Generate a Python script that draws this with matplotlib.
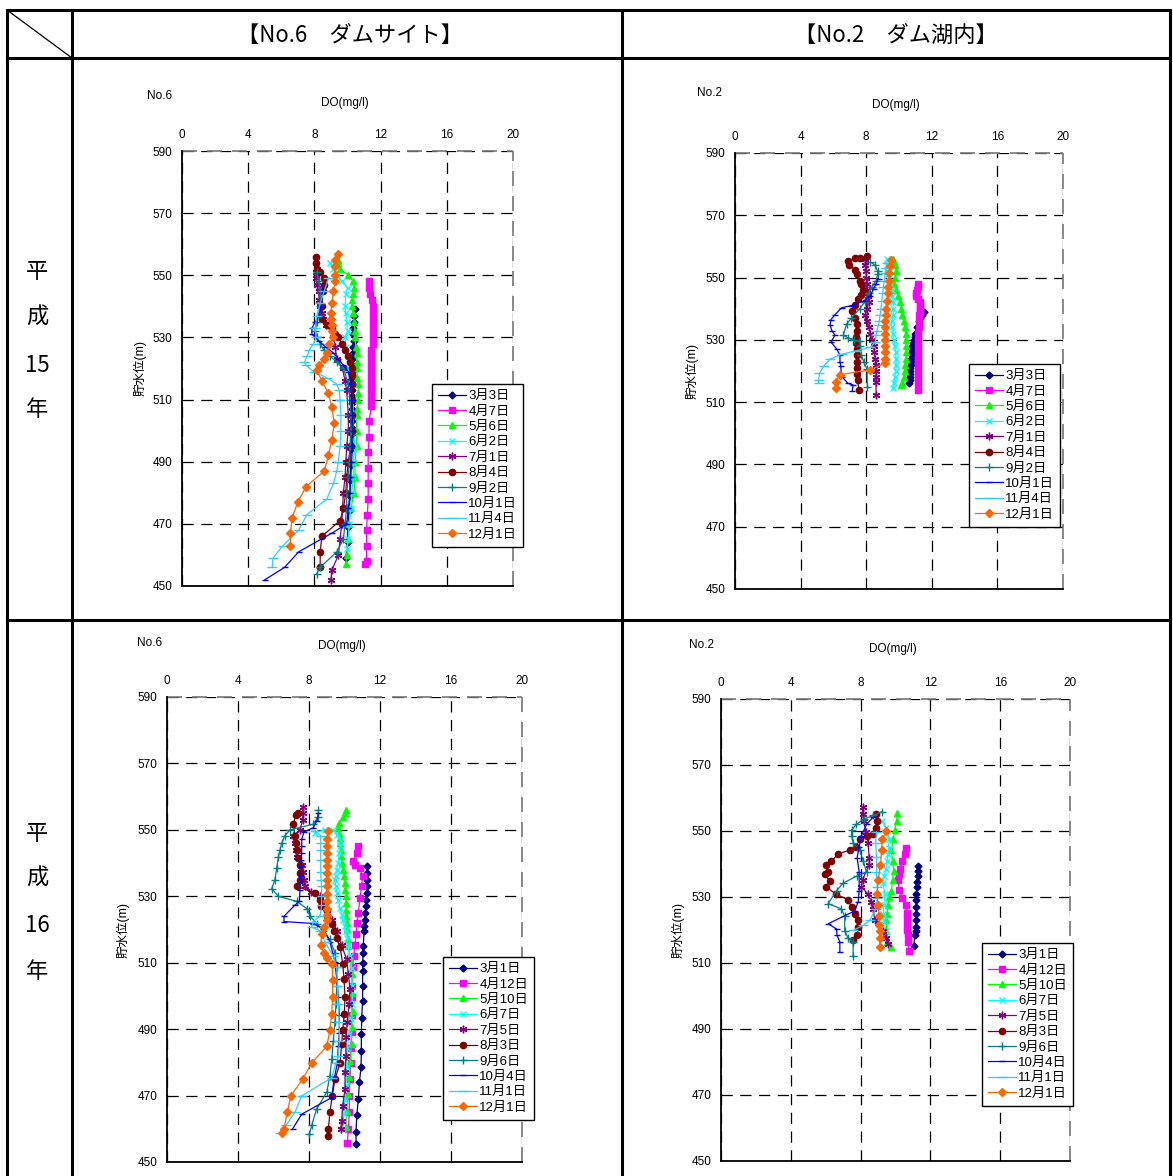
import matplotlib
matplotlib.use('Agg')
import matplotlib.pyplot as plt
from matplotlib.lines import Line2D

plt.rcParams['font.family'] = ['Liberation Sans', 'Noto Sans CJK JP']

W, H = 1173, 1176

# ---- data: (DO mg/l, water level m) ----
# H15 No.6
h15_no6_03 = [(10.45,539),(10.4,537),(10.4,535),(10.35,533),(10.35,531),(10.4,529),(10.35,527),(10.35,525),(10.3,523),(10.3,521),(10.3,519),(10.3,517),(10.3,515),(10.25,513),(10.3,511),(10.3,509),(10.25,507),(10.3,505),(10.25,503),(10.3,501),(10.25,499),(10.2,494),(10.2,489),(10.15,484),(10.15,479),(10.1,474),(10.0,469),(10.0,464),(9.9,459)]
h15_no6_04 = [(11.3,548),(11.3,546),(11.35,544),(11.5,542),(11.55,540),(11.55,538),(11.55,536),(11.55,534),(11.55,532),(11.55,530),(11.55,528),(11.45,526),(11.45,524),(11.45,522),(11.45,520),(11.45,518),(11.45,516),(11.45,514),(11.45,512),(11.45,510),(11.45,508),(11.3,503),(11.3,498),(11.25,493),(11.25,488),(11.25,483),(11.25,478),(11.2,473),(11.15,468),(11.15,463),(11.15,458),(11.05,457)]
h15_no6_05 = [(9.4,555),(9.45,554),(9.55,552),(10.05,550),(10.35,548),(10.4,546),(10.35,544),(10.3,542),(10.25,540),(10.35,538),(10.4,535),(10.45,532),(10.45,530),(10.5,527),(10.55,525),(10.55,522),(10.55,520),(10.6,517),(10.65,515),(10.65,512),(10.65,510),(10.6,507),(10.55,505),(10.55,500),(10.55,495),(10.45,490),(10.45,485),(10.4,480),(10.2,475),(10.1,470),(10.05,465),(9.95,460),(9.9,457)]
h15_no6_06 = [(8.95,554),(9.1,552),(9.35,550),(9.65,548),(10.0,546),(9.9,544),(9.85,540),(9.9,538),(9.95,535),(10.0,532),(9.85,530),(9.9,527),(10.0,524),(10.05,520),(10.15,515),(10.35,510),(10.35,505),(10.35,500),(10.45,495),(10.35,490),(10.35,485),(10.25,480),(10.2,475),(10.1,470),(10.05,465),(9.95,462)]
h15_no6_07 = [(8.1,551),(8.1,549),(8.15,547),(8.25,545),(8.3,542),(8.35,540),(8.45,538),(8.5,536),(8.7,534),(9.15,531),(9.25,527),(9.35,523),(9.7,520),(9.85,516),(9.95,513),(10.05,505),(10.05,500),(9.95,495),(9.9,490),(9.85,485),(9.75,480),(9.7,475),(9.65,470),(9.55,465),(9.45,460),(9.05,455),(9.0,452)]
h15_no6_08 = [(8.1,556),(8.1,554),(8.15,552),(8.35,551),(8.55,549),(8.6,547),(8.5,545),(8.45,540),(8.45,536),(8.75,534),(9.05,533),(9.25,531),(9.45,530),(9.65,528),(9.85,526),(10.05,524),(10.15,522),(10.25,520),(10.3,518),(10.3,515),(10.3,510),(10.3,505),(10.25,500),(10.2,495),(10.05,490),(9.95,485),(9.9,480),(9.75,475),(9.55,471),(8.45,466),(8.35,461),(8.35,456)]
h15_no6_09 = [(8.15,551),(8.25,548),(8.35,545),(8.35,540),(8.15,535),(8.05,532),(8.15,530),(8.35,528),(8.55,526),(8.95,524),(9.35,522),(9.75,520),(10.05,515),(10.15,510),(10.2,505),(10.2,500),(10.15,495),(10.1,490),(10.05,485),(9.95,480),(9.95,475),(9.85,470),(9.75,465),(9.35,461),(8.35,456),(8.15,454)]
h15_no6_10 = [(8.55,547),(8.5,545),(8.4,540),(8.3,537),(8.05,535),(7.85,533),(7.85,531),(8.25,529),(8.65,527),(9.15,525),(9.45,523),(9.75,521),(10.05,519),(10.2,515),(10.25,510),(10.3,505),(10.35,500),(10.3,495),(10.25,490),(10.2,485),(10.15,480),(10.05,475),(9.95,470),(9.05,467),(7.05,461),(6.2,456),(5.0,452)]
h15_no6_11 = [(8.85,549),(8.6,545),(8.35,541),(8.15,537),(8.05,533),(8.1,530),(7.95,528),(7.7,526),(7.55,524),(7.4,522),(7.5,521),(7.95,519),(8.75,517),(9.35,515),(9.5,513),(9.55,510),(9.6,505),(9.6,500),(9.55,495),(9.45,490),(9.35,487),(9.15,483),(8.75,478),(7.55,473),(7.05,468),(6.1,463),(5.5,459),(5.45,456)]
h15_no6_12 = [(9.4,557),(9.25,555),(9.25,553),(9.25,550),(9.25,548),(9.15,545),(9.05,541),(9.0,538),(9.0,536),(9.05,534),(9.05,532),(9.15,530),(8.9,528),(8.75,525),(8.6,523),(8.25,521),(8.15,519.5),(8.45,516),(8.85,512),(9.05,507.5),(9.2,502.5),(9.05,497),(8.85,492),(8.6,487),(7.5,482),(7.0,477),(6.65,472),(6.55,467),(6.55,463)]

# H15 No.2
h15_no2_03 = [(11.5,539),(11.4,538),(11.3,537),(11.2,536),(11.1,534),(11.0,532),(10.95,531),(10.9,530),(10.85,529),(10.8,528),(10.8,527),(10.78,526),(10.77,525),(10.75,524),(10.73,523),(10.72,522),(10.7,521),(10.7,520),(10.68,519),(10.67,518),(10.65,517),(10.63,516)]
h15_no2_04 = [(11.15,548),(11.15,547),(11.1,546),(11.05,545),(11.05,544),(11.15,543),(11.25,542),(11.3,541),(11.3,540),(11.25,539),(11.2,538),(11.2,536),(11.2,534),(11.18,532),(11.18,530),(11.18,528),(11.18,526),(11.18,524),(11.18,522),(11.18,520),(11.18,518),(11.18,516),(11.18,514)]
h15_no2_05 = [(9.65,556),(9.7,555),(9.75,554),(9.8,552),(9.75,550),(9.7,548),(9.8,546),(9.95,544),(10.05,542),(10.15,540),(10.2,538),(10.3,536),(10.35,534),(10.4,532),(10.4,530),(10.45,528),(10.45,526),(10.4,524),(10.38,522),(10.35,520),(10.3,518),(10.2,516),(10.15,515.5)]
h15_no2_06 = [(9.25,556),(9.25,554),(9.25,552),(9.3,550),(9.45,548),(9.55,546),(9.6,544),(9.65,542),(9.65,540),(9.65,538),(9.55,536),(9.55,534),(9.65,532),(9.7,530),(9.75,528),(9.8,526),(9.82,524),(9.82,522),(9.8,520),(9.75,518),(9.7,516),(9.65,514.5)]
h15_no2_07 = [(7.95,556),(7.95,554),(8.0,552),(8.0,550),(8.05,548),(8.05,546),(8.1,544),(8.15,542),(8.05,540),(7.95,538),(8.05,536),(8.15,534),(8.25,532),(8.35,530),(8.45,528),(8.5,526),(8.55,524),(8.58,522),(8.6,520),(8.6,518),(8.6,516.5),(8.6,512.2)]
h15_no2_08 = [(8.05,557),(7.6,556.3),(7.3,556.2),(6.9,555.2),(6.95,554),(7.3,552.5),(7.45,551),(7.62,549),(7.7,548),(7.8,546),(7.7,544.5),(7.5,543),(7.3,541.2),(7.15,539.2),(7.3,537),(7.45,535),(7.45,533),(7.4,531),(7.4,529),(7.42,527),(7.45,525),(7.45,523),(7.42,521),(7.42,519),(7.48,517),(7.55,514)]
h15_no2_09 = [(8.25,555),(8.55,554),(8.7,552),(8.7,551),(8.6,549),(8.35,547),(8.15,545),(7.9,542),(7.6,540),(7.1,537),(6.8,535),(6.6,531.5),(6.9,530.6),(7.25,529.8),(7.6,529.5),(7.65,528),(7.7,525),(7.85,523),(8.05,520.5),(8.07,515)]
h15_no2_10 = [(8.75,549.7),(8.6,548),(8.45,546.4),(8.25,544.2),(7.85,542.5),(7.1,541),(6.5,540.3),(6.1,538.1),(5.85,536.5),(5.8,534.8),(5.9,533),(6.1,531.5),(5.85,529.3),(6.2,527.1),(6.4,525),(6.4,523),(6.45,521.5),(6.5,518.2),(6.9,516),(7.2,515.5),(7.15,513.6)]
h15_no2_11 = [(9.25,554.7),(9.2,553),(9.15,551.4),(9.1,549),(9.05,547),(9.0,545),(8.95,542.5),(8.9,540),(8.85,538),(8.8,536),(8.75,534.8),(8.65,533),(8.6,531.5),(8.55,529.3),(8.25,527.6),(7.4,526.5),(6.5,525.4),(5.8,523.8),(5.4,521.5),(5.15,519.3),(5.1,517.1),(5.1,516.2)]
h15_no2_12 = [(9.5,555.8),(9.45,553.6),(9.4,551.4),(9.38,549),(9.35,547),(9.3,545),(9.25,542.5),(9.22,540),(9.2,538),(9.15,536),(9.15,534),(9.15,532),(9.15,530),(9.15,528),(9.15,526),(9.15,524),(9.15,522.6),(8.25,520.4),(6.4,518.8),(6.15,516.6),(6.15,514.4)]

# H16 No.6
h16_no6_03 = [(11.25,539),(11.25,537),(11.25,535),(11.25,533),(11.25,531),(11.22,529),(11.2,527),(11.18,525),(11.15,523),(11.12,521),(11.1,519.5),(11.06,515),(11.05,513),(11.02,510),(11.02,507.5),(11.02,503),(11.02,498.5),(10.97,493.5),(10.95,488.5),(10.95,483.5),(10.93,478.5),(10.84,474),(10.78,469),(10.69,464),(10.65,459),(10.65,455.5)]
h16_no6_04 = [(10.78,545),(10.7,543),(10.46,540.6),(10.6,539.5),(10.85,538.4),(11.02,536.2),(10.97,533),(10.87,529.6),(10.78,525),(10.7,522),(10.65,518.5),(10.59,515.2),(10.52,512),(10.46,508.6),(10.44,503),(10.4,499.7),(10.4,494.2),(10.4,489.2),(10.35,484.3),(10.35,479.8),(10.31,475),(10.27,470),(10.27,465),(10.22,460),(10.16,455.7)]
h16_no6_05 = [(10.07,556),(10.03,555),(9.9,554),(9.71,552),(9.65,550.5),(9.68,549),(9.72,547.5),(9.76,546),(9.78,544),(9.82,542),(9.86,540),(9.9,538),(9.95,536),(10.0,534),(10.03,532),(10.08,530),(10.1,528),(10.1,526),(10.08,524),(10.12,522),(10.16,520),(10.2,517),(10.22,515),(10.31,511),(10.4,506.5),(10.44,501),(10.46,495.5),(10.4,490.5),(10.4,485.5),(10.31,480.5),(10.27,475.5),(10.22,470.5),(10.12,465.5),(10.08,460.5)]
h16_no6_06 = [(8.35,549.2),(8.9,550),(9.37,550),(9.6,548.5),(9.75,547),(9.75,545),(9.7,543),(9.65,540),(9.55,538),(9.5,536),(9.46,535),(9.5,533),(9.56,531),(9.65,529),(9.75,526.5),(9.85,524.5),(9.93,523),(10.0,521),(10.08,519.5),(10.15,517.5),(10.22,515),(10.31,512),(10.4,508.5),(10.44,503),(10.44,497.5),(10.35,493),(10.27,488.5),(10.16,484.3),(10.12,478.7),(10.08,473.2),(10.03,468.8),(9.97,464.4),(9.9,460)]
h16_no6_07 = [(7.64,557),(7.66,555),(7.64,553),(7.49,550),(7.12,548.3),(7.2,546),(7.25,544),(7.3,541.7),(7.59,539.5),(7.68,537.3),(7.72,535),(7.77,533),(8.09,531.2),(8.62,530),(8.85,527),(9.0,525),(9.28,523),(9.56,519.6),(9.84,515.2),(10.12,511),(10.22,506.5),(10.31,502),(10.25,497.5),(10.16,492),(10.08,487.6),(10.08,482),(10.03,477),(10.03,472),(9.9,467),(9.84,462.2),(9.78,460)]
h16_no6_08 = [(7.4,555.2),(7.25,554.4),(7.12,551.7),(7.2,548.3),(7.25,546),(7.3,544),(7.4,541.5),(7.49,539.5),(7.49,537),(7.49,535),(7.3,533),(8.34,531),(8.62,529),(8.7,527),(9.0,524),(9.28,521.8),(9.4,519.5),(9.56,517.4),(9.75,514.6),(9.9,509.7),(9.97,505.2),(10.03,499.7),(9.99,494.7),(9.9,489.8),(9.84,485.4),(9.75,479.8),(9.46,474.9),(9.31,469.9),(9.18,465),(9.09,460),(9.09,457.7)]
h16_no6_09 = [(8.53,556),(8.53,554),(8.24,551.7),(6.93,550),(6.65,548.3),(6.46,546),(6.37,544),(6.27,541.7),(6.18,538.4),(6.08,535),(5.9,532.3),(6.27,530),(7.3,528.5),(7.91,526.2),(8.06,524),(8.43,521.8),(8.81,519.6),(9.18,517),(9.46,513),(9.56,508.6),(9.56,503),(9.52,497.5),(9.46,492),(9.37,486.5),(9.28,481),(9.18,476),(9.0,471),(8.43,466),(8.15,461),(8.02,458.3)]
h16_no6_10 = [(8.53,555),(8.45,552.8),(8.24,550.6),(7.72,549.4),(7.59,547.2),(7.59,545),(7.59,543),(7.57,541),(7.57,539),(7.55,536.2),(7.52,534),(7.49,531.8),(7.46,528.5),(7.2,527.3),(6.59,524),(6.59,522.4),(8.24,521.8),(8.81,520.2),(9.18,516.3),(9.46,510.2),(9.56,505.2),(9.65,499.7),(9.71,494.2),(9.71,488.7),(9.65,484.8),(9.6,479.8),(9.41,474.9),(9.28,469.4),(7.59,464.4),(7.08,460)]
h16_no6_11 = [(8.34,549.7),(8.66,548.3),(8.66,546),(8.66,543.9),(8.66,541),(8.66,537.3),(8.68,535),(8.71,533),(8.71,530),(8.71,527.3),(8.62,524),(8.24,522.4),(8.15,520.7),(8.62,519.6),(8.9,516.3),(9.37,511.9),(9.56,508.6),(9.6,503),(9.65,497.5),(9.71,492),(9.71,486.5),(9.65,482),(9.52,479.8),(9.28,475.4),(7.59,469.9),(7.21,465),(6.7,461),(6.37,458.8)]
h16_no6_12 = [(9.09,549.7),(9.0,547.2),(9.0,545),(9.0,543),(9.0,541),(9.0,539),(9.0,537),(9.0,535),(9.0,533),(9.0,530.7),(9.0,528.5),(9.0,526.2),(9.0,524.5),(9.0,522.9),(8.85,520.7),(8.71,518.5),(8.66,515.2),(8.85,513),(9.0,511.3),(9.31,509.7),(9.33,504.7),(9.33,499.7),(9.28,494.7),(9.18,489.8),(9.0,484.8),(8.15,479.8),(7.64,474.9),(6.97,469.9),(6.78,465),(6.59,460),(6.46,458.8)]

# H16 No.2
h16_no2_03 = [(11.3,539.5),(11.3,538),(11.28,536.5),(11.24,534.5),(11.22,533),(11.2,531),(11.2,529),(11.2,527),(11.2,525),(11.2,523),(11.2,521),(11.18,519.7),(11.1,518.6),(11.05,515.2)]
h16_no2_04 = [(10.59,545),(10.55,543),(10.4,541),(10.25,538.6),(10.2,537),(10.15,535.3),(10.2,532),(10.4,529.7),(10.59,527.5),(10.67,525.3),(10.67,523.5),(10.67,521.9),(10.67,520),(10.7,518.6),(10.73,516.5),(10.76,513.6)]
h16_no2_05 = [(10.1,555.5),(10.06,553.1),(9.96,550.3),(9.87,547.5),(9.77,544.2),(9.83,540.8),(9.9,538),(9.83,535.3),(9.77,531.9),(9.65,530),(9.58,527.5),(9.5,525),(9.48,523),(9.48,519.7),(9.54,516.4),(9.77,514.7)]
h16_no2_06 = [(9.2,553.1),(9.48,550.8),(9.64,547.5),(9.6,545),(9.58,543.1),(9.5,540.8),(9.45,538.6),(9.35,536.3),(9.29,534.2),(9.39,530.8),(9.33,527.5),(9.3,525),(9.35,523),(9.45,519.7),(9.52,517.5)]
h16_no2_07 = [(8.11,557.3),(8.11,555.3),(8.18,553.1),(8.3,549.7),(8.43,546.4),(8.49,541.9),(8.49,539.7),(8.11,535.3),(8.05,533.1),(8.43,530.8),(8.62,528.6),(8.72,526.4),(8.81,523),(9.29,519.7),(9.48,517.5),(9.58,515.8)]
h16_no2_08 = [(8.91,555.1),(8.95,553.1),(8.91,550.8),(8.72,549.2),(8.34,548.6),(7.95,547.5),(7.76,545.3),(7.38,544.2),(6.71,543.1),(6.33,540.8),(6.04,539.7),(6.14,537.5),(5.95,536.9),(6.23,534.7),(6.04,533),(6.61,530.8),(7.28,529.2),(7.48,526.9),(7.67,524.7),(7.86,523),(7.86,520.8),(7.8,518.6),(7.57,516.9)]
h16_no2_09 = [(9.2,555.8),(8.72,554.7),(8.18,553.6),(7.76,552),(7.48,550.3),(7.48,548.6),(7.57,546.4),(7.95,544.2),(8.15,541),(8.34,537.5),(7.8,536.4),(7.0,534.2),(6.62,531.9),(6.14,528),(6.9,526.4),(7.09,524.2),(7.09,519.7),(7.28,517.5),(7.57,516.4),(7.57,512.1)]
h16_no2_10 = [(8.72,554.2),(8.34,552),(8.05,548.6),(7.92,545.3),(7.8,541.9),(7.92,537.5),(7.92,531.9),(7.86,528.6),(7.67,525.8),(6.14,521.9),(6.62,520.3),(6.65,518.4),(6.81,516.4),(6.81,513.3)]
h16_no2_11 = [(8.91,549.7),(8.87,546.4),(8.91,542),(8.91,537.5),(8.95,533.1),(8.95,529.7),(8.87,526.4),(8.53,523),(8.15,521.4),(7.57,519.9)]
h16_no2_12 = [(9.45,550),(9.25,547.5),(9.2,544.2),(9.14,539.7),(9.01,535.3),(8.95,530.8),(9.01,527.5),(9.06,524.2),(9.08,521.5),(9.1,519.7),(9.1,517.5),(9.1,514.7)]

h15_labels = ['3月3日', '4月7日', '5月6日', '6月2日', '7月1日', '8月4日', '9月2日', '10月1日', '11月4日', '12月1日']
h16_labels = ['3月1日', '4月12日', '5月10日', '6月7日', '7月5日', '8月3日', '9月6日', '10月4日', '11月1日', '12月1日']

# colour, marker, size
styles = [('#000080', 'D', 3.5), ('#FF00FF', 's', 4), ('#00FF00', '^', 4.5),
          ('#00FFFF', 'x', 4.5), ('#800080', (6, 2, 0), 5.5), ('#800000', 'o', 4.5),
          ('#008080', '+', 5.5), ('#0000FF', '_', 4), ('#33CCFF', '_', 6.5),
          ('#FF6600', 'D', 4)]


def fx(x):
    return x / W


def fy(y):
    return 1 - y / H


fig = plt.figure(figsize=(W / 100, H / 100), dpi=100)


def panel(box, series, labels, site, site_xy, do_xy, ylab_x, leg_xy):
    x0, x1, y0, y1 = box
    ax = fig.add_axes([fx(x0), fy(y1), (x1 - x0) / W, (y1 - y0) / H])
    for s, lab, (c, m, ms) in zip(series, labels, styles):
        xs = [p[0] for p in s]
        ys = [p[1] for p in s]
        ax.plot(xs, ys, color=c, marker=m, ms=ms, lw=0.9, mew=1.0, label=lab)
    ax.set_xlim(0, 20)
    ax.set_ylim(450, 590)
    ax.set_xticks(range(0, 21, 4))
    ax.set_yticks(range(450, 591, 20))
    ax.xaxis.tick_top()
    ax.tick_params(length=0, labelsize=8.5, pad=7)
    ax.grid(True, color='black', lw=0.9, ls=(0, (9, 6)))
    ax.set_axisbelow(True)
    for sp in ['top', 'right']:
        ax.spines[sp].set_visible(False)
    for sp in ['left', 'bottom']:
        ax.spines[sp].set_linewidth(1.3)
    ax.axhline(590, color='#777777', lw=1.2, ls=(0, (9, 6)), clip_on=False)
    ax.axvline(20, color='#777777', lw=1.2, ls=(0, (9, 6)), clip_on=False)
    fig.text(fx(site_xy[0]), fy(site_xy[1]), site, fontsize=8.5, ha='center', va='center')
    fig.text(fx(do_xy[0]), fy(do_xy[1]), 'DO(mg/l)', fontsize=8.5, ha='center', va='center')
    fig.text(fx(ylab_x), fy((y0 + y1) / 2), '貯水位(m)', fontsize=9, rotation=90,
             ha='center', va='center')
    leg = ax.legend(loc='upper left', bbox_to_anchor=(fx(leg_xy[0]), fy(leg_xy[1])),
                    bbox_transform=fig.transFigure, borderaxespad=0, fontsize=9.5,
                    labelspacing=0.24, handlelength=2.1, handletextpad=0.2,
                    borderpad=0.45, fancybox=False, framealpha=1)
    leg.get_frame().set_edgecolor('black')
    leg.get_frame().set_linewidth(1.0)
    return ax


panel((182, 513, 151, 586),
      [h15_no6_03, h15_no6_04, h15_no6_05, h15_no6_06, h15_no6_07,
       h15_no6_08, h15_no6_09, h15_no6_10, h15_no6_11, h15_no6_12],
      h15_labels, 'No.6', (160, 96), (345, 103), 140, (432, 384))
panel((735, 1063, 153, 589),
      [h15_no2_03, h15_no2_04, h15_no2_05, h15_no2_06, h15_no2_07,
       h15_no2_08, h15_no2_09, h15_no2_10, h15_no2_11, h15_no2_12],
      h15_labels, 'No.2', (709, 93), (896, 105), 692, (969, 364))
panel((167, 522, 697, 1162),
      [h16_no6_03, h16_no6_04, h16_no6_05, h16_no6_06, h16_no6_07,
       h16_no6_08, h16_no6_09, h16_no6_10, h16_no6_11, h16_no6_12],
      h16_labels, 'No.6', (150, 643), (342, 646), 123, (443, 957))
panel((721, 1070, 699, 1161),
      [h16_no2_03, h16_no2_04, h16_no2_05, h16_no2_06, h16_no2_07,
       h16_no2_08, h16_no2_09, h16_no2_10, h16_no2_11, h16_no2_12],
      h16_labels, 'No.2', (701, 645), (893, 649), 678, (982, 943))

# table frame
def tline(xa, ya, xb, yb, lw=2.2):
    fig.add_artist(Line2D([fx(xa), fx(xb)], [fy(ya), fy(yb)], color='black', lw=lw,
                          transform=fig.transFigure, solid_capstyle='projecting'))


tline(7, 10, 1170, 10)
tline(7, 10, 7, 1176)
tline(1170, 10, 1170, 1176)
tline(72, 10, 72, 1176)
tline(622, 10, 622, 1176)
tline(7, 58, 1170, 58)
tline(7, 620, 1170, 620)
tline(7, 10, 72, 58, lw=0.9)

hdr = dict(fontsize=16, ha='center', va='center', family=['Noto Sans CJK JP', 'DejaVu Sans'])
fig.text(fx(350), fy(35), '【No.6　ダムサイト】', **hdr)
fig.text(fx(896), fy(35), '【No.2　ダム湖内】', **hdr)
for yy, t in zip([272, 317, 365, 410], ['平', '成', '15', '年']):
    fig.text(fx(37), fy(yy), t, **hdr)
for yy, t in zip([833, 878, 925, 972], ['平', '成', '16', '年']):
    fig.text(fx(37), fy(yy), t, **hdr)

fig.savefig('out.png', dpi=100)
